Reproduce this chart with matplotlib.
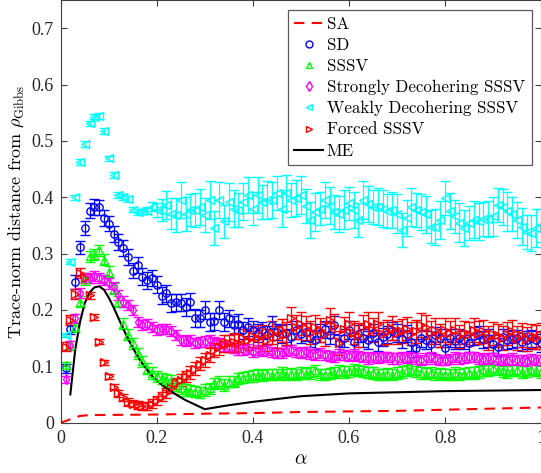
import numpy as np
import matplotlib
matplotlib.use("Agg")
import matplotlib.pyplot as plt
from matplotlib.lines import Line2D

plt.rcParams["mathtext.fontset"] = "cm"

# coupling strength grid
alpha = [round(0.01 * k, 2) for k in range(1, 101)]

sd = [0.097, 0.167, 0.250, 0.311, 0.345, 0.376, 0.383, 0.382, 0.363, 0.353,
      0.335, 0.320, 0.310, 0.294, 0.270, 0.280, 0.259, 0.253, 0.257, 0.245,
      0.225, 0.230, 0.212, 0.214, 0.213, 0.206, 0.215, 0.185, 0.185, 0.200,
      0.179, 0.180, 0.200, 0.179, 0.185, 0.173, 0.176, 0.164, 0.170, 0.165,
      0.160, 0.164, 0.156, 0.173, 0.161, 0.158, 0.160, 0.152, 0.165, 0.158,
      0.161, 0.150, 0.147, 0.160, 0.166, 0.155, 0.173, 0.141, 0.150, 0.164,
      0.144, 0.158, 0.150, 0.147, 0.160, 0.144, 0.152, 0.157, 0.162, 0.159,
      0.148, 0.158, 0.144, 0.132, 0.150, 0.147, 0.140, 0.155, 0.151, 0.132,
      0.150, 0.145, 0.150, 0.146, 0.141, 0.153, 0.156, 0.148, 0.150, 0.140,
      0.135, 0.152, 0.146, 0.148, 0.150, 0.143, 0.146, 0.150, 0.147, 0.142]
sd_err = [0.008, 0.010, 0.012, 0.012, 0.012, 0.013, 0.014, 0.014, 0.014, 0.013,
          0.014, 0.014, 0.014, 0.015, 0.014, 0.014, 0.015, 0.015, 0.014, 0.015,
          0.015, 0.015, 0.016, 0.015, 0.015, 0.016, 0.015, 0.016, 0.015, 0.016,
          0.016, 0.015, 0.016, 0.016, 0.015, 0.016, 0.016, 0.015, 0.016, 0.016,
          0.016, 0.015, 0.016, 0.016, 0.015, 0.016, 0.016, 0.015, 0.016, 0.016,
          0.016, 0.015, 0.016, 0.016, 0.015, 0.016, 0.016, 0.015, 0.016, 0.016,
          0.016, 0.015, 0.016, 0.016, 0.015, 0.016, 0.016, 0.015, 0.016, 0.016,
          0.016, 0.015, 0.016, 0.016, 0.015, 0.016, 0.016, 0.015, 0.016, 0.016,
          0.016, 0.015, 0.016, 0.016, 0.015, 0.016, 0.016, 0.015, 0.016, 0.016,
          0.016, 0.015, 0.016, 0.016, 0.015, 0.016, 0.016, 0.015, 0.016, 0.016]

sssv = [0.102, 0.137, 0.170, 0.215, 0.255, 0.295, 0.298, 0.306, 0.289, 0.268,
        0.238, 0.215, 0.176, 0.156, 0.141, 0.123, 0.109, 0.096, 0.088, 0.082,
        0.079, 0.076, 0.074, 0.067, 0.061, 0.058, 0.057, 0.055, 0.054, 0.058,
        0.061, 0.070, 0.072, 0.067, 0.073, 0.073, 0.079, 0.080, 0.082, 0.083,
        0.085, 0.084, 0.086, 0.085, 0.086, 0.088, 0.085, 0.087, 0.086, 0.088,
        0.087, 0.088, 0.093, 0.086, 0.085, 0.087, 0.089, 0.092, 0.090, 0.091,
        0.094, 0.093, 0.091, 0.089, 0.088, 0.086, 0.085, 0.087, 0.085, 0.088,
        0.090, 0.093, 0.094, 0.091, 0.088, 0.087, 0.089, 0.086, 0.087, 0.085,
        0.086, 0.088, 0.085, 0.087, 0.089, 0.088, 0.090, 0.093, 0.092, 0.097,
        0.094, 0.091, 0.090, 0.092, 0.093, 0.090, 0.091, 0.094, 0.092, 0.090]
sssv_err = [0.006, 0.008, 0.009] + [0.010] * 97

strong = [0.077, 0.138, 0.185, 0.230, 0.256, 0.257, 0.260, 0.257, 0.253, 0.247,
          0.240, 0.227, 0.215, 0.209, 0.200, 0.179, 0.173, 0.175, 0.170, 0.164,
          0.166, 0.167, 0.162, 0.156, 0.147, 0.145, 0.147, 0.141, 0.143, 0.144,
          0.146, 0.143, 0.141, 0.136, 0.135, 0.132, 0.130, 0.129, 0.131, 0.126,
          0.129, 0.127, 0.129, 0.126, 0.124, 0.123, 0.127, 0.129, 0.125, 0.124,
          0.126, 0.122, 0.120, 0.123, 0.120, 0.118, 0.117, 0.121, 0.120, 0.118,
          0.121, 0.119, 0.116, 0.114, 0.117, 0.115, 0.117, 0.116, 0.114, 0.114,
          0.116, 0.115, 0.117, 0.114, 0.112, 0.114, 0.116, 0.113, 0.112, 0.111,
          0.113, 0.116, 0.114, 0.115, 0.117, 0.116, 0.114, 0.113, 0.115, 0.114,
          0.112, 0.113, 0.111, 0.114, 0.112, 0.111, 0.110, 0.113, 0.112, 0.111]
strong_err = [0.006, 0.007, 0.008] + [0.009] * 97

weak = [0.156, 0.286, 0.400, 0.462, 0.494, 0.531, 0.543, 0.544, 0.518, 0.469,
        0.440, 0.404, 0.400, 0.397, 0.378, 0.374, 0.375, 0.376, 0.383, 0.377,
        0.377, 0.386, 0.371, 0.368, 0.395, 0.371, 0.377, 0.377, 0.383, 0.368,
        0.395, 0.345, 0.395, 0.357, 0.392, 0.380, 0.377, 0.392, 0.404, 0.380,
        0.404, 0.392, 0.395, 0.395, 0.407, 0.380, 0.407, 0.395, 0.398, 0.404,
        0.385, 0.360, 0.374, 0.380, 0.395, 0.385, 0.374, 0.371, 0.378, 0.389,
        0.377, 0.360, 0.395, 0.388, 0.383, 0.383, 0.380, 0.375, 0.378, 0.371,
        0.342, 0.363, 0.383, 0.378, 0.374, 0.370, 0.348, 0.348, 0.360, 0.398,
        0.375, 0.366, 0.355, 0.345, 0.355, 0.360, 0.357, 0.362, 0.362, 0.366,
        0.386, 0.383, 0.375, 0.370, 0.360, 0.348, 0.339, 0.336, 0.345, 0.350]
weak_err = [0.004, 0.004, 0.004, 0.005, 0.005, 0.005, 0.005, 0.005, 0.005, 0.005,
            0.005, 0.005, 0.005, 0.005, 0.005, 0.005, 0.005, 0.006, 0.008, 0.012,
            0.020, 0.025, 0.028, 0.030, 0.032, 0.030, 0.028, 0.030, 0.032, 0.030,
            0.034, 0.030, 0.032, 0.030, 0.034, 0.032, 0.030, 0.033, 0.032, 0.030,
            0.032, 0.030, 0.034, 0.032, 0.030, 0.033, 0.032, 0.030, 0.032, 0.034,
            0.030, 0.032, 0.034, 0.030, 0.032, 0.033, 0.030, 0.032, 0.034, 0.030,
            0.032, 0.030, 0.034, 0.032, 0.030, 0.033, 0.032, 0.030, 0.032, 0.034,
            0.030, 0.032, 0.034, 0.030, 0.032, 0.033, 0.030, 0.032, 0.034, 0.030,
            0.032, 0.030, 0.034, 0.032, 0.030, 0.033, 0.032, 0.030, 0.032, 0.034,
            0.030, 0.032, 0.034, 0.030, 0.032, 0.033, 0.030, 0.032, 0.034, 0.030]

forced = [0.135, 0.182, 0.228, 0.266, 0.256, 0.226, 0.187, 0.144, 0.107, 0.082,
          0.064, 0.052, 0.045, 0.037, 0.034, 0.031, 0.029, 0.030, 0.034, 0.040,
          0.046, 0.053, 0.061, 0.070, 0.076, 0.082, 0.089, 0.096, 0.105, 0.111,
          0.120, 0.129, 0.135, 0.140, 0.141, 0.144, 0.142, 0.150, 0.146, 0.153,
          0.150, 0.155, 0.147, 0.160, 0.152, 0.164, 0.158, 0.185, 0.170, 0.176,
          0.168, 0.160, 0.170, 0.164, 0.157, 0.182, 0.172, 0.141, 0.166, 0.176,
          0.160, 0.156, 0.170, 0.176, 0.165, 0.176, 0.158, 0.161, 0.168, 0.160,
          0.163, 0.167, 0.158, 0.162, 0.173, 0.170, 0.160, 0.164, 0.155, 0.164,
          0.160, 0.165, 0.153, 0.160, 0.157, 0.165, 0.160, 0.162, 0.150, 0.158,
          0.155, 0.150, 0.158, 0.162, 0.150, 0.156, 0.148, 0.154, 0.152, 0.156]
forced_err = [0.008, 0.009, 0.009, 0.009, 0.008, 0.006, 0.005, 0.005, 0.005, 0.005,
              0.005, 0.006, 0.006, 0.007, 0.007, 0.007, 0.007, 0.007, 0.008, 0.008,
              0.008, 0.009, 0.009, 0.010, 0.010, 0.010, 0.011, 0.011, 0.012, 0.012,
              0.013, 0.013, 0.014, 0.015, 0.015, 0.016, 0.016, 0.017, 0.017, 0.018,
              0.018, 0.019, 0.019, 0.020, 0.020, 0.020, 0.021, 0.021, 0.021, 0.021,
              ] + [0.021] * 50

# smooth reference curves
sa_alpha = [0.0, 0.02, 0.04, 0.06, 0.1, 0.2, 0.3, 0.4, 0.5, 0.6, 0.7, 0.8, 0.9, 1.0]
sa = [0.0, 0.006, 0.012, 0.0135, 0.0138, 0.0145, 0.016, 0.017, 0.019, 0.020,
      0.021, 0.023, 0.025, 0.027]

me_alpha = [0.02, 0.03, 0.04, 0.05, 0.06, 0.07, 0.08, 0.09, 0.10, 0.11, 0.12,
            0.13, 0.14, 0.15, 0.16, 0.17, 0.18, 0.19, 0.20, 0.22, 0.24, 0.26,
            0.28, 0.30, 0.35, 0.40, 0.50, 0.60, 0.70, 0.80, 0.90, 1.00]
me = [0.050, 0.128, 0.178, 0.212, 0.231, 0.240, 0.242, 0.236, 0.222, 0.205,
      0.186, 0.167, 0.149, 0.133, 0.118, 0.105, 0.094, 0.083, 0.075, 0.061,
      0.050, 0.040, 0.032, 0.024, 0.031, 0.037, 0.047, 0.052, 0.054, 0.056,
      0.057, 0.058]

series = [
    ("SD", sd, sd_err, "o", "#0000ff"),
    ("SSSV", sssv, sssv_err, "^", "#00ff00"),
    ("Strongly Decohering SSSV", strong, strong_err, "d", "#ff00ff"),
    ("Weakly Decohering SSSV", weak, weak_err, "<", "#00ffff"),
    ("Forced SSSV", forced, forced_err, ">", "#ff0000"),
]

fig = plt.figure(figsize=(5.41, 4.73), dpi=100)
ax = fig.add_axes([60.7 / 541, 50.3 / 473, 480.3 / 541, 422.7 / 473])

handles = []
sa_line, = ax.plot(sa_alpha, sa, color="#ff0000", lw=1.5, dashes=(5, 3.5),
                   label="SA")
handles.append(sa_line)
for name, vals, err, mk, col in series:
    ax.errorbar(alpha, vals, yerr=err, fmt=mk, ms=5.3, mfc="none", mec=col,
                mew=1.0, ecolor=col, elinewidth=0.9, capsize=3.6,
                capthick=0.9)
    handles.append(Line2D([], [], ls="none", marker=mk, ms=5, mfc="none",
                          mec=col, mew=1.0, label=name))
me_line, = ax.plot(me_alpha, me, color="black", lw=1.5, label="ME")
handles.append(me_line)

ax.set_xlim(0, 1)
ax.set_ylim(0, 0.75)
ax.set_xticks([0, 0.2, 0.4, 0.6, 0.8, 1.0])
ax.set_xticklabels(["0", "0.2", "0.4", "0.6", "0.8", "1"])
ax.set_yticks([0, 0.1, 0.2, 0.3, 0.4, 0.5, 0.6, 0.7])
ax.set_yticklabels(["0", "0.1", "0.2", "0.3", "0.4", "0.5", "0.6", "0.7"])
ax.tick_params(direction="in", length=4, width=0.8, color="0.25",
               top=True, right=True, labelsize=13, pad=5)
for lab in ax.get_xticklabels() + ax.get_yticklabels():
    lab.set_family("Liberation Serif")
    lab.set_color("0.15")
for sp in ax.spines.values():
    sp.set_color("0.25")
    sp.set_linewidth(0.8)

ax.set_xlabel(r"$\alpha$", fontsize=14, labelpad=2)
ax.set_ylabel(r"Trace-norm distance from $\rho_{\mathrm{Gibbs}}$",
              fontsize=13, family="cmr10", labelpad=4)

leg = ax.legend(handles=handles, loc="upper right",
                bbox_to_anchor=((531.7 - 60.7) / 480.3, 1 - 10 / 422.7),
                prop={"family": "cmr10", "size": 12.2}, frameon=True,
                fancybox=False, framealpha=1, edgecolor="0.35",
                handlelength=1.7, handletextpad=0.2, labelspacing=0.34,
                borderpad=0.4, borderaxespad=0)
leg.get_frame().set_linewidth(0.9)

fig.savefig("out.png", dpi=100)
